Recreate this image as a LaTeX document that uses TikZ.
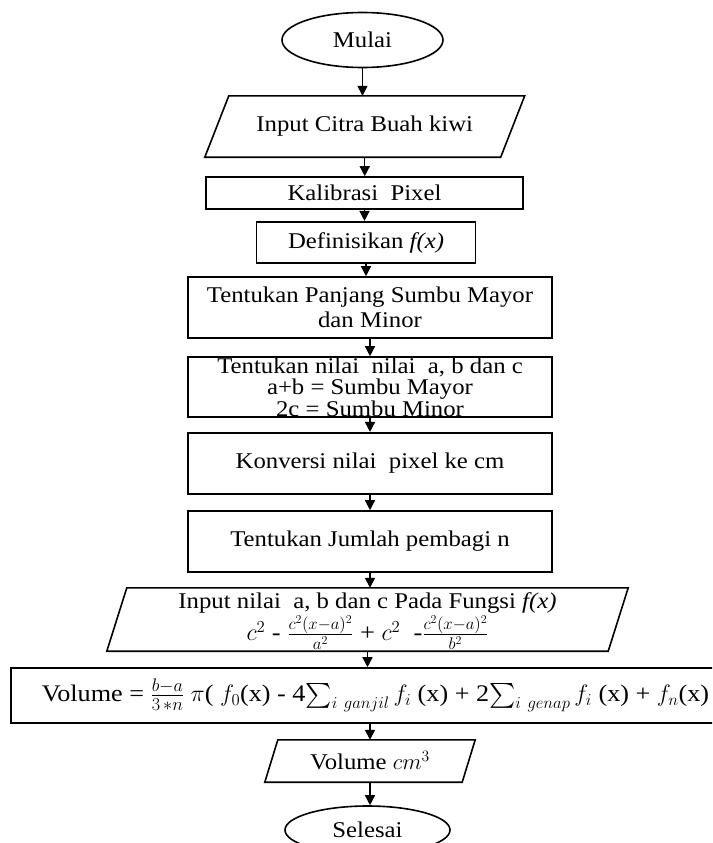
\RequirePackage{fix-cm}
\documentclass[tikz,border=0pt]{standalone}
\usepackage{exscale}
\usepackage{fontspec}
\setmainfont{Liberation Serif}[FakeStretch=1.1]
\usetikzlibrary{shapes.geometric,arrows.meta,calc}
\newcommand\drawpara[2]{%
  \draw[line width=1.6pt] ($(#1.north west)+(#2,0)$) -- ($(#1.north east)+(#2,0)$)
    -- ($(#1.south east)+(-#2,0)$) -- ($(#1.south west)+(-#2,0)$) -- cycle;}
\begin{document}
\begin{tikzpicture}[x=1pt,y=-1pt,
  every node/.style={font=\fontsize{22.5}{25}\selectfont, inner sep=0pt, align=center},
  box/.style={draw, line width=1.6pt, rectangle},
  ell/.style={draw, line width=1.6pt, ellipse},
  para/.style={rectangle},
  arr/.style={line width=1.4pt, -{Triangle[width=10pt,length=10pt]}}]
\clip (0,0) rectangle (712,843);
\fill[white] (0,0) rectangle (712,843);

\node[ell, minimum width=161pt, minimum height=55pt] (start) at (362.5,40) {Mulai};
\node[para, minimum width=295.5pt, minimum height=61pt] (in1) at (364.75,126.5) {Input Citra Buah kiwi};
\drawpara{in1}{12}
\node[box, minimum width=317pt, minimum height=32pt] (kal) at (364.5,193) {Kalibrasi\ \ Pixel};
\node[box, minimum width=219pt, minimum height=41.5pt] (def) at (366,242.5) {Definisikan \textit{f(x)}};
\node[box, minimum width=364pt, minimum height=61pt] (pan) at (370,307.5) {Tentukan Panjang Sumbu Mayor\\dan Minor};
\node[box, minimum width=364pt, minimum height=60pt, font=\fontsize{22.5}{21.5}\selectfont] (nil) at (370,387) {Tentukan nilai\ \ nilai\ \ a, b dan c\\a+b = Sumbu Mayor\\2c = Sumbu Minor};
\node[box, minimum width=364pt, minimum height=61.5pt] (kon) at (370,463.5) {Konversi nilai\ \ pixel ke cm};
\node[box, minimum width=364pt, minimum height=61pt] (jum) at (370,541.5) {Tentukan Jumlah pembagi n};
\node[para, minimum width=501pt, minimum height=63pt] (in2) at (367.5,619.5) {};
\node (in2t) at ([yshift=-1.5pt]in2.center) {Input nilai\ \ a, b dan c Pada Fungsi \textit{f(x)}\\[1pt] {\fontsize{24}{27}\selectfont $c^2$ - $\frac{c^2(x-a)^2}{a^2}$ + $c^2$\ \ -$\frac{c^2(x-a)^2}{b^2}$}};
\drawpara{in2}{10}
\node[box, minimum width=729pt, minimum height=55pt, font=\fontsize{23.8}{26}\selectfont] (vol) at (375.5,695.5) {Volume = {\fontsize{26}{28}\selectfont$\frac{b-a}{3\,\ast n}$} $\pi$( $f_0$(x) - 4$\sum_{i\ ganjil} f_i$ (x) + 2$\sum_{i\ genap} f_i$ (x) + $f_n$(x)};
\node[para, minimum width=197pt, minimum height=42pt] (out) at (370,761) {Volume $cm^3$};
\drawpara{out}{6.5}
\node[ell, minimum width=165pt, minimum height=48pt] (end) at (367.5,830) {Selesai};

\draw[arr] (start.south) -- (start.south |- in1.north);
\draw[arr] (in1.south) -- (in1.south |- kal.north);
\draw[arr] (kal.south) -- (kal.south |- def.north);
\draw[arr] (def.south) -- (def.south |- pan.north);
\draw[arr] (pan.south) -- (pan.south |- nil.north);
\draw[arr] (nil.south) -- (nil.south |- kon.north);
\draw[arr] (kon.south) -- (kon.south |- jum.north);
\draw[arr] (jum.south) -- (jum.south |- in2.north);
\draw[arr] (in2.south) -- (in2.south |- vol.north);
\draw[arr] (out.north |- vol.south) -- (out.north);
\draw[arr] (out.south) -- (out.south |- end.north);
\end{tikzpicture}
\end{document}
